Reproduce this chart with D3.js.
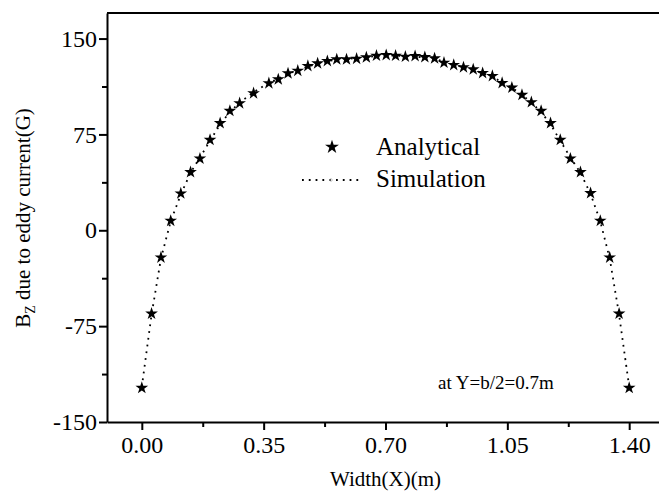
<!DOCTYPE html>
<html>
<head>
<meta charset="utf-8">
<script src="https://cdn.jsdelivr.net/npm/d3@7"></script>
<style>
  body { margin: 0; background: #fff; }
  svg { display: block; font-family: "Liberation Serif", "Times New Roman", serif; }
</style>
</head>
<body>
<div id="chart"></div>
<script>
// positions along the width (m)
const widthX = [0.000, 0.028, 0.055, 0.083, 0.112, 0.140, 0.167, 0.196, 0.225, 0.253,
  0.281, 0.321, 0.365, 0.392, 0.420, 0.448, 0.477, 0.505, 0.533, 0.560,
  0.588, 0.617, 0.645, 0.674, 0.702, 0.729, 0.757, 0.785, 0.813, 0.841,
  0.868, 0.896, 0.924, 0.952, 0.979, 1.007, 1.035, 1.063, 1.092, 1.119,
  1.147, 1.174, 1.202, 1.231, 1.260, 1.289, 1.317, 1.344, 1.371, 1.400];

const analytical = [-123.3, -65.2, -21.3, 7.4, 28.8, 45.5, 56.1, 70.7, 83.8, 93.4,
  99.4, 107.2, 115.0, 118.1, 122.8, 124.8, 128.5, 130.6, 132.4, 133.7,
  133.7, 134.2, 135.3, 136.6, 137.1, 136.6, 135.8, 136.3, 135.5, 134.5,
  131.1, 129.3, 127.5, 125.9, 123.0, 120.7, 115.2, 111.6, 105.9, 100.2,
  93.4, 83.8, 70.7, 56.1, 45.5, 29.1, 7.4, -21.3, -65.2, -123.3];

const simulation = [-122.5, -66.0, -22.0, 7.0, 28.0, 45.0, 57.0, 70.0, 83.0, 92.5,
  100.0, 108.0, 115.5, 118.5, 122.5, 125.0, 128.0, 130.5, 132.5, 133.5,
  134.0, 134.8, 135.5, 136.3, 136.8, 136.6, 136.2, 135.8, 135.2, 134.0,
  132.0, 129.8, 127.5, 125.5, 123.0, 120.0, 115.8, 111.5, 106.0, 100.0,
  92.5, 83.0, 70.0, 57.0, 45.0, 28.5, 7.0, -22.0, -66.0, -122.5];

const xTicks = [0, 0.35, 0.70, 1.05, 1.40];
const xTickLabels = ["0.00", "0.35", "0.70", "1.05", "1.40"];
const xMinor = [0.175, 0.525, 0.875, 1.225];
const yTicks = [-150, -75, 0, 75, 150];
const yTickLabels = ["-150", "-75", "0", "75", "150"];
const yMinor = [-112.5, -37.5, 37.5, 112.5];

const W = 659, H = 497;
const plotLeft = 107, plotTop = 13, plotBottom = 422;
const serif = '"Liberation Serif", "Times New Roman", serif';

const svg = d3.select("#chart").append("svg")
  .attr("width", W)
  .attr("height", H);

const x = d3.scaleLinear().domain([-0.1, 1.5]).range([plotLeft, 664]);
const y = d3.scaleLinear().domain([-150, 170]).range([plotBottom, plotTop]);

// frame top line
svg.append("line")
  .attr("x1", plotLeft).attr("x2", W)
  .attr("y1", plotTop).attr("y2", plotTop)
  .attr("stroke", "#000").attr("stroke-width", 2);

// minor ticks
svg.append("g")
  .attr("transform", `translate(0,${plotBottom})`)
  .call(d3.axisBottom(x).tickValues(xMinor).tickSize(5).tickFormat(""))
  .call(g => g.select(".domain").remove())
  .selectAll("line").attr("stroke-width", 2);

svg.append("g")
  .attr("transform", `translate(${plotLeft},0)`)
  .call(d3.axisLeft(y).tickValues(yMinor).tickSize(5).tickFormat(""))
  .call(g => g.select(".domain").remove())
  .selectAll("line").attr("stroke-width", 2);

// major axes
const xAxis = svg.append("g")
  .attr("transform", `translate(0,${plotBottom})`)
  .call(d3.axisBottom(x).tickValues(xTicks).tickSize(8).tickSizeOuter(0).tickPadding(6)
    .tickFormat((d, i) => xTickLabels[i]));
xAxis.attr("font-family", null).attr("font-size", null);
xAxis.select(".domain").attr("stroke-width", 2);
xAxis.selectAll(".tick line").attr("stroke-width", 2);
xAxis.selectAll("text")
  .style("font-family", serif)
  .style("font-size", "24px").attr("fill", "#000");

const yAxis = svg.append("g")
  .attr("transform", `translate(${plotLeft},0)`)
  .call(d3.axisLeft(y).tickValues(yTicks).tickSize(8).tickSizeOuter(0).tickPadding(2)
    .tickFormat((d, i) => yTickLabels[i]));
yAxis.attr("font-family", null).attr("font-size", null);
yAxis.select(".domain").attr("stroke-width", 2);
yAxis.selectAll(".tick line").attr("stroke-width", 2);
yAxis.selectAll("text")
  .style("font-family", serif)
  .style("font-size", "24px").attr("fill", "#000");

// simulation dotted line
const line = d3.line()
  .x((d, i) => x(widthX[i]))
  .y(d => y(d));

svg.append("path")
  .datum(simulation)
  .attr("fill", "none")
  .attr("stroke", "#000")
  .attr("stroke-width", 1.8)
  .attr("stroke-dasharray", "1.8,5")
  .attr("d", line);

// analytical stars
const star = d3.symbol().type(d3.symbolStar).size(50);
svg.append("g")
  .selectAll("path")
  .data(analytical)
  .join("path")
  .attr("transform", (d, i) => `translate(${x(widthX[i])},${y(d)})`)
  .attr("d", star)
  .attr("fill", "#000");

// Legend
const legend = svg.append("g");
legend.append("path")
  .attr("transform", "translate(332,147)")
  .attr("d", d3.symbol().type(d3.symbolStar).size(60))
  .attr("fill", "#000");
legend.append("text")
  .attr("x", 376).attr("y", 155)
  .style("font-size", "25px")
  .text("Analytical");
legend.append("line")
  .attr("x1", 302).attr("x2", 362)
  .attr("y1", 180).attr("y2", 180)
  .attr("stroke", "#000")
  .attr("stroke-width", 1.8)
  .attr("stroke-dasharray", "1.8,5");
legend.append("circle")
  .attr("cx", 331).attr("cy", 180).attr("r", 1.3)
  .attr("fill", "none").attr("stroke", "#bbb").attr("stroke-width", 0.8);
legend.append("text")
  .attr("x", 376).attr("y", 187)
  .style("font-size", "25px")
  .text("Simulation");

// annotation
svg.append("text")
  .attr("x", 438).attr("y", 389)
  .style("font-size", "19px")
  .text("at Y=b/2=0.7m");

// Labels
svg.append("text")
  .attr("x", x(0.7)).attr("y", 486)
  .attr("text-anchor", "middle")
  .style("font-size", "21px")
  .text("Width(X)(m)");

const yLabel = svg.append("text")
  .attr("transform", "translate(30,218) rotate(-90)")
  .attr("text-anchor", "middle")
  .style("font-size", "21px");
yLabel.append("tspan").text("B");
yLabel.append("tspan").attr("dy", 5).style("font-size", "14px").text("Z");
yLabel.append("tspan").attr("dy", -5).text(" due to eddy current(G)");
</script>
</body>
</html>
